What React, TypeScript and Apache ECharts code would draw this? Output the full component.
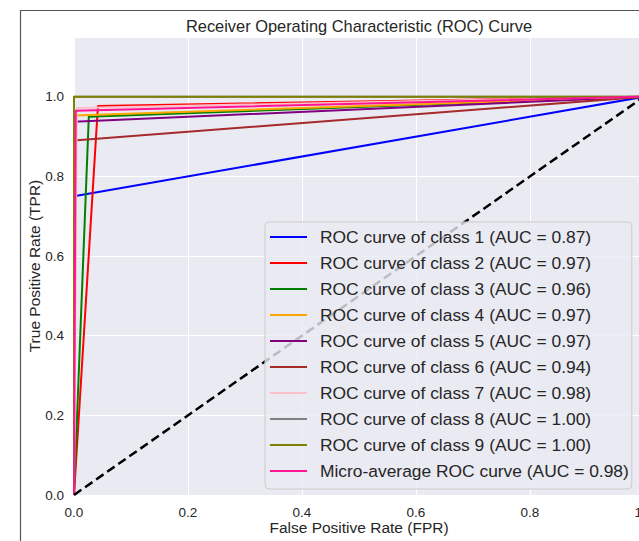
import React, { useEffect, useRef } from "react";
import * as echarts from "echarts";

const seriesNames = [
  "ROC curve of class 1 (AUC = 0.87)",
  "ROC curve of class 2 (AUC = 0.97)",
  "ROC curve of class 3 (AUC = 0.96)",
  "ROC curve of class 4 (AUC = 0.97)",
  "ROC curve of class 5 (AUC = 0.97)",
  "ROC curve of class 6 (AUC = 0.94)",
  "ROC curve of class 7 (AUC = 0.98)",
  "ROC curve of class 8 (AUC = 1.00)",
  "ROC curve of class 9 (AUC = 1.00)",
  "Micro-average ROC curve (AUC = 0.98)",
];

const seriesColors = [
  "#0000FF",
  "#FF0000",
  "#008000",
  "#FFA500",
  "#800080",
  "#A52A2A",
  "#FFC0CB",
  "#808080",
  "#808000",
  "#FF1493",
];

// [fpr, tpr] points for each curve
const class1 = [[0, 0], [0, 0.75], [1, 1]];
const class2 = [[0, 0], [0.042, 0.977], [1, 1]];
const class3 = [[0, 0], [0.026, 0.95], [1, 1]];
const class4 = [[0, 0], [0, 0.953], [1, 1]];
const class5 = [[0, 0], [0, 0.937], [1, 1]];
const class6 = [[0, 0], [0, 0.89], [1, 1]];
const class7 = [[0, 0], [0.005, 0.972], [1, 1]];
const class8 = [[0, 0], [0, 1], [1, 1]];
const class9 = [[0, 0], [0, 1], [1, 1]];
const microAvg = [[0, 0], [0.003, 0.965], [1, 1]];
const chanceLine = [[0, 0], [1, 1]];

const curves = [class1, class2, class3, class4, class5, class6, class7, class8, class9, microAvg];

const FONT = "'Liberation Sans', Arial, sans-serif";
const TEXT = "#262626";

export default function App() {
  const ref = useRef<HTMLDivElement>(null);
  useEffect(() => {
    if (!ref.current) return;
    const chart = echarts.init(ref.current, undefined, { renderer: "svg" });
    const series: any[] = curves.map((d, i) => ({
      name: seriesNames[i],
      type: "line",
      data: d,
      symbol: "none",
      color: seriesColors[i],
      lineStyle: { color: seriesColors[i], width: 2 },
      z: 2,
    }));
    series.push({
      name: "chance",
      type: "line",
      data: chanceLine,
      symbol: "none",
      color: "#000000",
      lineStyle: { color: "#000000", width: 2.5, type: [9, 4.5] },
      z: 3,
    });
    chart.setOption({
      animation: false,
      backgroundColor: "#ffffff",
      textStyle: { fontFamily: FONT },
      title: {
        text: "Receiver Operating Characteristic (ROC) Curve",
        left: 354,
        textAlign: "center",
        top: 13,
        textStyle: { fontFamily: FONT, fontSize: 16.4, fontWeight: "normal", color: TEXT },
      },
      graphic: [
        {
          type: "rect",
          shape: { x: 20.5, y: 10.5, width: 1000, height: 1000 },
          style: { fill: "none", stroke: "#555555", lineWidth: 1.2 },
          silent: true,
        },
      ],
      grid: {
        left: 74,
        top: 37,
        width: 570,
        height: 458,
        show: true,
        backgroundColor: "#EAEAF2",
        borderWidth: 0,
        containLabel: false,
        outerBoundsMode: "none",
      },
      legend: {
        data: seriesNames,
        orient: "vertical",
        left: 265,
        top: 222,
        icon: "rect",
        itemWidth: 37,
        itemHeight: 2,
        itemGap: 6,
        padding: [5, 3, 8, 5],
        backgroundColor: "rgba(234,234,242,0.8)",
        borderColor: "#CCCCCC",
        borderWidth: 1,
        borderRadius: 4,
        textStyle: {
          fontFamily: FONT,
          fontSize: 17.4,
          color: TEXT,
          lineHeight: 20,
          padding: [0, 0, 0, 8],
        },
      },
      xAxis: {
        type: "value",
        min: 0,
        max: 1,
        interval: 0.2,
        name: "False Positive Rate (FPR)",
        nameLocation: "middle",
        nameGap: 24,
        nameMoveOverlap: false,
        nameTextStyle: { fontFamily: FONT, fontSize: 15.5, color: TEXT },
        axisLine: { show: false },
        axisTick: { show: false },
        axisLabel: {
          fontFamily: FONT,
          fontSize: 13.5,
          color: TEXT,
          margin: 10,
          formatter: (v: number) => v.toFixed(1),
        },
        splitLine: { show: true, lineStyle: { color: "#FFFFFF", width: 1 } },
      },
      yAxis: {
        type: "value",
        min: 0,
        max: 1.15,
        interval: 0.2,
        name: "True Positive Rate (TPR)",
        nameLocation: "middle",
        nameGap: 32,
        nameMoveOverlap: false,
        nameTextStyle: { fontFamily: FONT, fontSize: 15.5, color: TEXT },
        axisLine: { show: false },
        axisTick: { show: false },
        axisLabel: {
          fontFamily: FONT,
          fontSize: 13.5,
          color: TEXT,
          margin: 10,
          showMaxLabel: false,
          formatter: (v: number) => v.toFixed(1),
        },
        splitLine: { show: true, lineStyle: { color: "#FFFFFF", width: 1 } },
      },
      series,
    });
    return () => chart.dispose();
  }, []);
  return (
    <div
      ref={ref}
      style={{ position: "fixed", left: 0, top: 0, width: 639, height: 541 }}
    />
  );
}
